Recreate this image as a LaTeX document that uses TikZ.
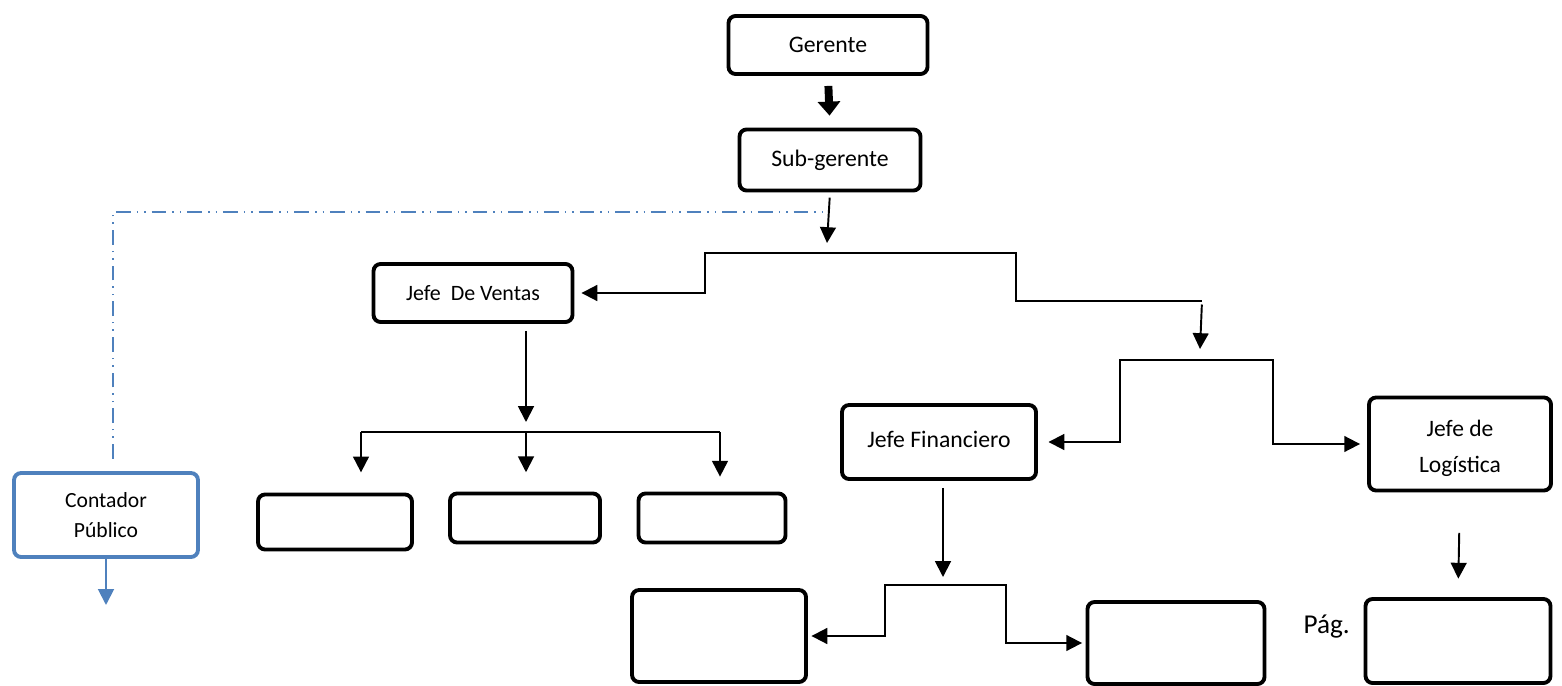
\documentclass[tikz,border=0pt]{standalone}
\usepackage{fontspec}
\setmainfont{Carlito}
\usetikzlibrary{arrows.meta}

\definecolor{wordblue}{HTML}{4F81BD}

\tikzset{
  box/.style={draw, line width=2.2pt, rounded corners=4pt, inner sep=0pt,
    align=center, font=\fontsize{13.5}{16}\selectfont},
  bluebox/.style={box, draw=wordblue, font=\fontsize{12.3}{17}\selectfont},
  link/.style={line width=1.1pt, -{Triangle[length=9pt,width=9pt]}},
  fork/.style={line width=1pt},
  bluelink/.style={link, draw=wordblue, fill=wordblue},
  bigarrow/.style={line width=4.5pt, -{Triangle[length=8pt,width=12.5pt]}},
  dashdot/.style={draw=wordblue, line width=0.8pt,
    dash pattern=on 8.5pt off 3.4pt on 0.8pt off 3.4pt on 0.8pt off 3.4pt},
}

\begin{document}
\begin{tikzpicture}[x=0.02cm, y=-0.02cm]
\useasboundingbox (0,0) rectangle (1562,686);

% top of the chart
\node[box, minimum width=3.98cm, minimum height=1.16cm] (ger) at (828,45) {Gerente};
\node[box, minimum width=3.62cm, minimum height=1.22cm] (sub) at (830,160) {Sub-gerente};
\draw[bigarrow, shorten <=5.7pt, shorten >=6.8pt] (ger.south) -- (sub.north);

% heads of area
\node[box, minimum width=3.98cm, minimum height=1.16cm,
  font=\fontsize{12.5}{15}\selectfont] (ven) at (473,293) {Jefe\ \ De Ventas};
\node[box, minimum width=3.88cm, minimum height=1.48cm] (fin) at (939,442)
  {\raisebox{1.7pt}[\height][\depth]{Jefe Financiero}};
\node[box, minimum width=3.64cm, minimum height=1.86cm,
  font=\fontsize{13.4}{21}\selectfont] (log) at (1460,444)
  {\raisebox{-2.5pt}[\height][\depth]{\parbox{3cm}{\centering Jefe de\\Logística}}};
\node[bluebox, minimum width=3.68cm, minimum height=1.68cm] (cont) at (106,515) {Contador\\Público};

% empty boxes
\node[box, minimum width=3.08cm, minimum height=1.10cm] (va) at (335,522) {};
\node[box, minimum width=3.00cm, minimum height=0.98cm] (vb) at (525,518) {};
\node[box, minimum width=2.94cm, minimum height=0.98cm] (vc) at (712,518) {};
\node[box, minimum width=3.48cm, minimum height=1.84cm] (fa) at (719,636) {};
\node[box, minimum width=3.54cm, minimum height=1.64cm] (fb) at (1176,643) {};
\node[box, minimum width=3.70cm, minimum height=1.68cm] (la) at (1458,641) {};
\node[font=\fontsize{15.5}{18}\selectfont, anchor=east] (pag) at (1356,627) {Pág.};

% fork points
\coordinate (s1) at (827,243);
\coordinate (sf) at (828,253);
\coordinate (sfl) at (705,253);
\coordinate (sfr) at (1016,253);
\coordinate (r1) at (1202,301);
\coordinate (r2) at (1200,349);
\coordinate (fc) at (1196,360);
\coordinate (ffl) at (1120,360);
\coordinate (ffr) at (1273,360);
\coordinate (v1) at (526,422);
\coordinate (vl) at (361,432);
\coordinate (vr) at (720,432);
\coordinate (f1) at (943,577);
\coordinate (fc2) at (943,585);
\coordinate (fl) at (885,585);
\coordinate (frr) at (1006,585);
\coordinate (c1) at (106,605);
\coordinate (d1) at (113,212);

% Sub-gerente branches
\draw[link, shorten <=3pt] (sub.south) -- (s1);
\draw[link, shorten >=4pt] (sf) -- (sfl) |- (ven.east);
\draw[fork] (sf) -- (sfr) |- (r1);
\draw[link, shorten <=2pt] (r1) -- (r2);
\draw[link, shorten >=6pt] (fc) -- (ffl) |- (fin.east);
\draw[link, shorten >=4pt] (fc) -- (ffr) |- (log.west);

% ventas
\draw[link, shorten <=4pt] (ven.south -| v1) -- (v1);
\draw[fork] (vl) -- (vr);
\draw[link, shorten >=11.5pt] (vl) -- (vl |- va.north);
\draw[link, shorten >=11pt] (vl -| v1) -- (v1 |- vb.north);
\draw[link, shorten >=8.5pt] (vr) -- (vr |- vc.north);

% financiero
\draw[link, shorten <=4pt] (fin.south -| f1) -- (f1);
\draw[link, shorten >=2pt] (fc2) -- (fl) |- (fa.east);
\draw[link, shorten >=2pt] (fc2) -- (frr) |- (fb.west);

% logistica
\draw[link, shorten <=23pt, shorten >=10.5pt] (log.south) -- (la.north);

% contador
\draw[bluelink] (cont.south) -- (c1);
\draw[dashdot, shorten <=7pt] (cont.north -| d1) -- (d1) -- (s1 |- d1);
\end{tikzpicture}
\end{document}
